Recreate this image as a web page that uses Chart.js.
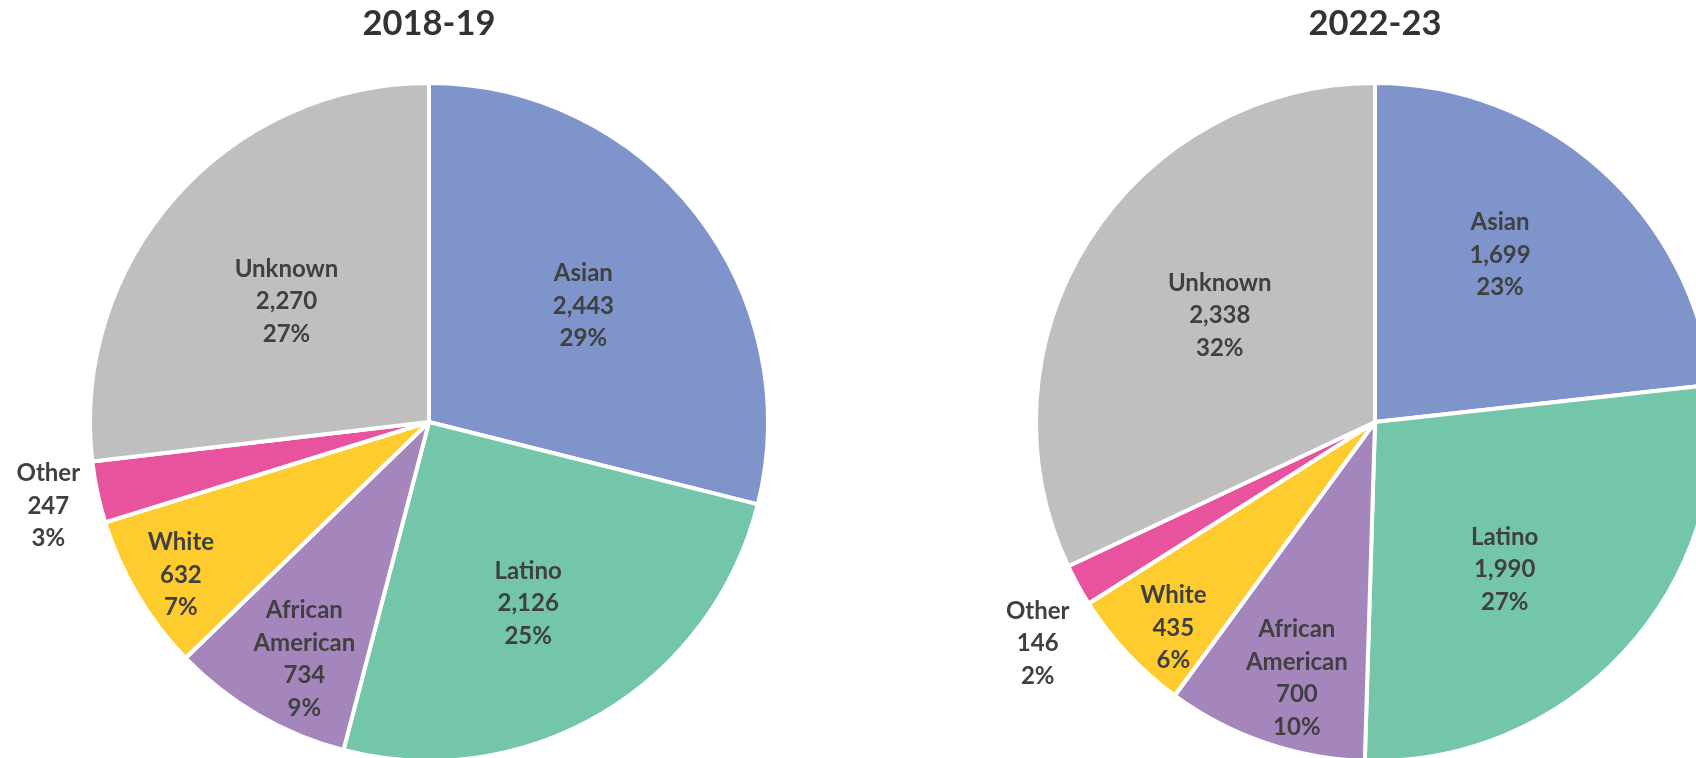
<!DOCTYPE html>
<html>
<head>
<meta charset="utf-8">
<script src="https://cdn.jsdelivr.net/npm/chart.js@4"></script>
<style>
  html, body { margin: 0; padding: 0; background: #fff; overflow: hidden; }
  #wrap { position: relative; width: 1696px; height: 758px; overflow: hidden; }
  canvas { position: absolute; top: 0; }
</style>
</head>
<body>
<div id="wrap">
  <canvas id="pie1" width="860" height="770" style="left:0px"></canvas>
  <canvas id="pie2" width="900" height="770" style="left:860px"></canvas>
</div>
<script>
// categories and values
var categories = ['Asian', 'Latino', 'African American', 'White', 'Other', 'Unknown'];
var values1819 = [2443, 2126, 734, 632, 247, 2270];
var values2223 = [1699, 1990, 700, 435, 146, 2338];
var colors = ['#7E94CB', '#73C6AA', '#A486BD', '#FECC2F', '#E8539E', '#BFBFBF'];

// where each label sits: fraction of radius, and nudge in degrees
var labelRadius1 = [0.57, 0.61, 0.79, 0.86, 1.15, 0.55];
var labelShift1 = [1, 2, -2.5, -1, -0.5, -1.5];
var labelRadius2 = [0.615, 0.58, 0.79, 0.85, 1.19, 0.555];
var labelShift2 = [-5, 6, -2, -2.5, -4.5, 2];

var textColor = '#404040';
var fontFamily = 'Lato, "Open Sans", sans-serif';

var sliceLabels = {
    id: 'sliceLabels',
    afterDatasetsDraw: function (chart, args, opts) {
        var ctx = chart.ctx;
        var meta = chart.getDatasetMeta(0);
        var data = chart.data.datasets[0].data;
        var total = data.reduce(function (a, b) { return a + b; }, 0);
        ctx.save();
        ctx.fillStyle = textColor;
        ctx.font = 'bold 24px ' + fontFamily;
        ctx.textAlign = 'center';
        ctx.textBaseline = 'middle';
        meta.data.forEach(function (arc, i) {
            var p = arc.getProps(['x', 'y', 'startAngle', 'endAngle', 'outerRadius'], true);
            var mid = (p.startAngle + p.endAngle) / 2 + opts.shift[i] * Math.PI / 180;
            var r = p.outerRadius * opts.radius[i];
            var cx = p.x + Math.cos(mid) * r;
            var cy = p.y + Math.sin(mid) * r;
            var lines = chart.data.labels[i].split(' ');
            lines.push(data[i].toLocaleString('en-US'));
            lines.push(Math.round(data[i] / total * 100) + '%');
            var lh = 32.5;
            var y0 = cy - (lines.length - 1) * lh / 2;
            lines.forEach(function (t, k) {
                ctx.fillText(t, cx, y0 + k * lh);
            });
        });
        ctx.restore();
    }
};

function makePie(id, title, values, pad, radius, shift) {
    return new Chart(document.getElementById(id), {
        type: 'pie',
        data: {
            labels: categories,
            datasets: [{
                data: values,
                backgroundColor: colors,
                borderColor: '#ffffff',
                borderWidth: 4
            }]
        },
        options: {
            responsive: false,
            animation: false,
            devicePixelRatio: 1,
            layout: { padding: pad },
            plugins: {
                legend: { display: false },
                tooltip: { enabled: false },
                title: {
                    display: true,
                    text: title,
                    color: '#333333',
                    font: { family: fontFamily, size: 34.5, weight: 'bold', lineHeight: 1.2 },
                    padding: { top: 3, bottom: 36.6 }
                },
                sliceLabels: { radius: radius, shift: shift }
            }
        },
        plugins: [sliceLabels]
    });
}

makePie('pie1', '2018-19', values1819, { left: 88, right: 90, top: 0, bottom: 7 }, labelRadius1, labelShift1);
makePie('pie2', '2022-23', values2223, { left: 174, right: 44, top: 0, bottom: 7 }, labelRadius2, labelShift2);
</script>
</body>
</html>
